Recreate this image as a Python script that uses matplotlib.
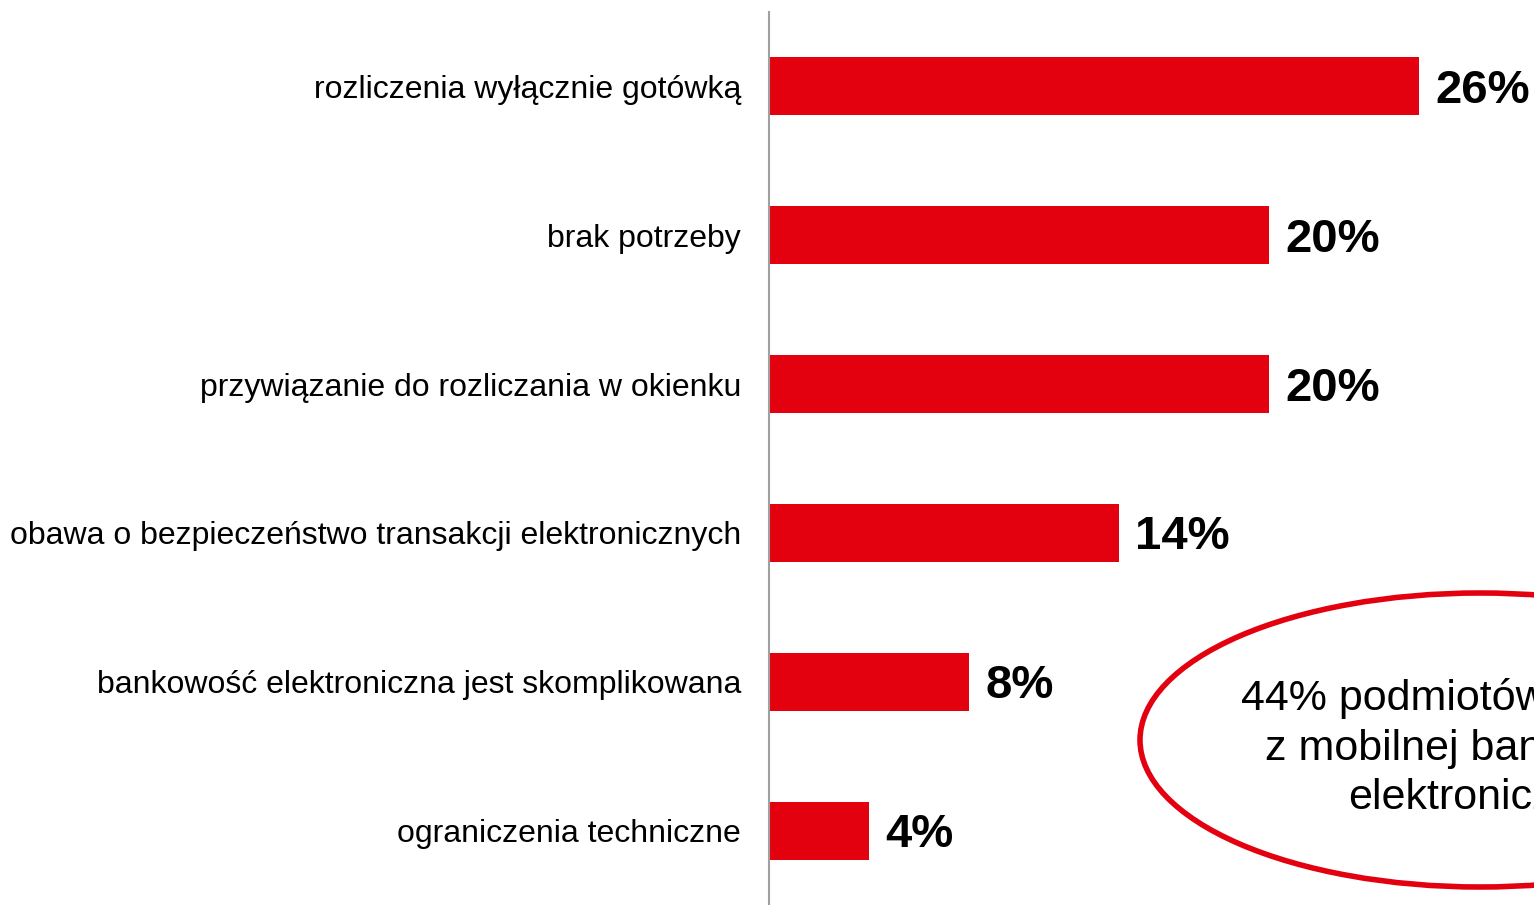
import matplotlib.pyplot as plt
from matplotlib.patches import Ellipse

categories = [
    "rozliczenia wyłącznie gotówką",
    "brak potrzeby",
    "przywiązanie do rozliczania w okienku",
    "obawa o bezpieczeństwo transakcji elektronicznych",
    "bankowość elektroniczna jest skomplikowana",
    "ograniczenia techniczne",
]
values = [26, 20, 20, 14, 8, 4]
note = "44% podmiotów korzysta\nz mobilnej bankowości\nelektronicznej"

red = "#e3000f"
W, H = 1534, 905

plt.rcParams["font.family"] = ["Liberation Sans", "DejaVu Sans"]
fig = plt.figure(figsize=(W / 100, H / 100), dpi=100)
ax = fig.add_axes([769 / W, 0, 1 - 769 / W, 1 - 12 / H])

ypos = list(range(len(categories)))
ax.barh(ypos, values, height=0.39, color=red)
ax.set_xlim(0, (W - 769) / 25)
ax.set_ylim(len(categories) - 0.5, -0.5)

for y, v in zip(ypos, values):
    ax.text(v + 0.65, y + 0.03, f"{v}%", va="center", ha="left",
            fontsize=34, fontweight="bold", color="black")

ax.set_yticks(ypos)
ax.set_yticklabels(categories, fontsize=23)
ax.tick_params(axis="y", length=0, pad=20)
ax.set_xticks([])
for side in ["top", "right", "bottom"]:
    ax.spines[side].set_visible(False)
ax.spines["left"].set_color("#a0a0a0")
ax.spines["left"].set_linewidth(1.5)

# ellipse with note, cut at the right edge like the original slide
ell = Ellipse((1480 / W, 1 - 740 / H), 680 / W, 294 / H, transform=fig.transFigure,
              facecolor="white", edgecolor=red, linewidth=4)
fig.patches.append(ell)
fig.text(1480 / W, 1 - 748 / H, note, ha="center", va="center",
         fontsize=31, linespacing=1.3, color="black")

fig.savefig("out.png", dpi=100)
